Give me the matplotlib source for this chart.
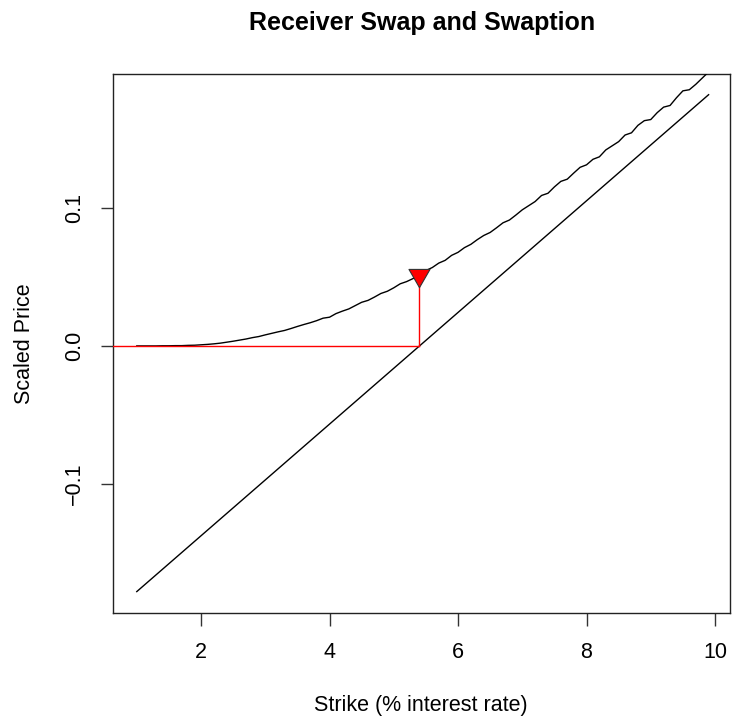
import matplotlib
matplotlib.use("Agg")
import matplotlib.pyplot as plt
from matplotlib.path import Path

# ---- data ----
strikes = [1.0, 1.1, 1.2, 1.3, 1.4, 1.5, 1.6, 1.7, 1.8, 1.9,
           2.0, 2.1, 2.2, 2.3, 2.4, 2.5, 2.6, 2.7, 2.8, 2.9,
           3.0, 3.1, 3.2, 3.3, 3.4, 3.5, 3.6, 3.7, 3.8, 3.9,
           4.0, 4.1, 4.2, 4.3, 4.4, 4.5, 4.6, 4.7, 4.8, 4.9,
           5.0, 5.1, 5.2, 5.3, 5.4, 5.5, 5.6, 5.7, 5.8, 5.9,
           6.0, 6.1, 6.2, 6.3, 6.4, 6.5, 6.6, 6.7, 6.8, 6.9,
           7.0, 7.1, 7.2, 7.3, 7.4, 7.5, 7.6, 7.7, 7.8, 7.9,
           8.0, 8.1, 8.2, 8.3, 8.4, 8.5, 8.6, 8.7, 8.8, 8.9,
           9.0, 9.1, 9.2, 9.3, 9.4, 9.5, 9.6, 9.7, 9.8, 9.9]
swaption_price = [0.0000, 0.0000, 0.0000, 0.0000, 0.0001, 0.0001, 0.0002, 0.0002, 0.0004, 0.0005,
                  0.0008, 0.0011, 0.0015, 0.0020, 0.0027, 0.0034, 0.0042, 0.0050, 0.0060, 0.0068,
                  0.0080, 0.0091, 0.0102, 0.0112, 0.0126, 0.0141, 0.0155, 0.0168, 0.0183, 0.0201,
                  0.0208, 0.0234, 0.0252, 0.0268, 0.0292, 0.0316, 0.0330, 0.0354, 0.0380, 0.0396,
                  0.0421, 0.0450, 0.0466, 0.0488, 0.0514, 0.0546, 0.0568, 0.0600, 0.0620, 0.0656,
                  0.0678, 0.0712, 0.0736, 0.0770, 0.0800, 0.0822, 0.0856, 0.0892, 0.0912, 0.0948,
                  0.0986, 0.1016, 0.1046, 0.1090, 0.1106, 0.1152, 0.1192, 0.1208, 0.1252, 0.1294,
                  0.1312, 0.1352, 0.1370, 0.1420, 0.1450, 0.1480, 0.1528, 0.1544, 0.1598, 0.1632,
                  0.1640, 0.1690, 0.1730, 0.1742, 0.1798, 0.1848, 0.1856, 0.1895, 0.1940, 0.1985]
swap_strikes = [1.0, 9.9]
swap_price = [-0.178, 0.182]
atm_strike = 5.4
atm_price = 0.0516

x_ticks = [2, 4, 6, 8, 10]
y_ticks = [-0.1, 0.0, 0.1]
y_tick_labels = ["\u22120.1", "0.0", "0.1"]

title = "Receiver Swap and Swaption"
x_label = "Strike (% interest rate)"
y_label = "Scaled Price"

# ---- plot ----
plt.rcParams['font.family'] = ['Liberation Sans', 'DejaVu Sans']
fig = plt.figure(figsize=(7.32, 7.22), dpi=100)
W, H = 732, 722
ax = fig.add_axes([113 / W, 1 - 613 / H, (730 - 113) / W, (613 - 74) / H])

lw = 1.0
ax.plot(strikes, swaption_price, color='black', lw=lw, zorder=3)
ax.plot(swap_strikes, swap_price, color='black', lw=lw, zorder=3)
ax.plot([0, atm_strike], [0, 0], color='red', lw=lw, zorder=4)
ax.plot([atm_strike, atm_strike], [0, atm_price], color='red', lw=lw, zorder=4)

tri = Path([(0, -1.0), (-0.866, 0.5), (0.866, 0.5), (0, -1.0)],
           [Path.MOVETO, Path.LINETO, Path.LINETO, Path.CLOSEPOLY])
ax.plot([atm_strike], [atm_price], marker=tri, markersize=17.5,
        markerfacecolor='red', markeredgecolor='#333333', markeredgewidth=0.8,
        linestyle='none', zorder=5)

ax.set_xlim(0.63, 10.233)
ax.set_ylim(-0.1935, 0.197)

ax.set_xticks(x_ticks)
ax.set_xticklabels([str(t) for t in x_ticks])
ax.set_yticks(y_ticks)
ax.set_yticklabels(y_tick_labels, rotation=90, va='center')

for sp in ax.spines.values():
    sp.set_linewidth(1.0)
    sp.set_color('#222222')

ax.tick_params(axis='both', direction='out', length=9, width=1.0, color='#333333',
               labelsize=15.5)
ax.tick_params(axis='x', pad=12)
ax.tick_params(axis='y', pad=11)

fig.text(422 / W, 1 - 23 / H, title, ha='center', va='center', fontsize=18, fontweight='bold')
fig.text(421 / W, 1 - 705 / H, x_label, ha='center', va='center', fontsize=15.5)
fig.text(25 / W, 1 - 344 / H, y_label, ha='center', va='center', fontsize=15.5, rotation=90)

fig.savefig("out.png", dpi=100)
